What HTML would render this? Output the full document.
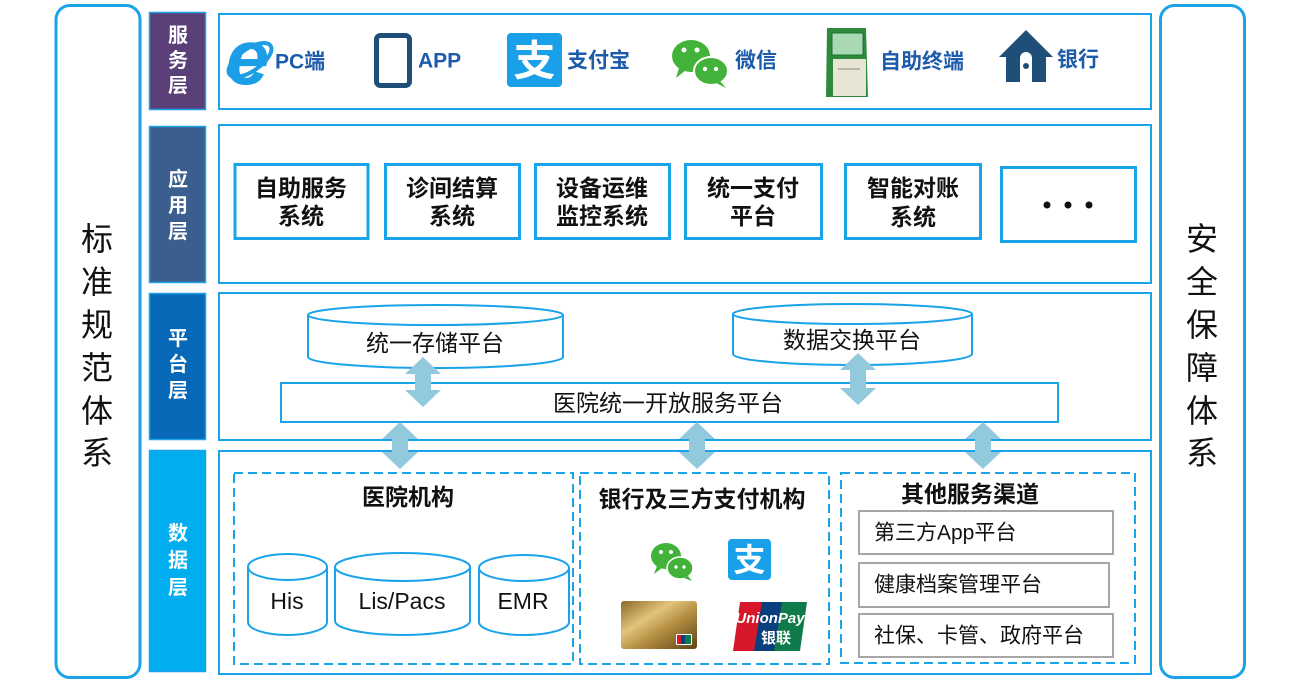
<!DOCTYPE html>
<html><head><meta charset="utf-8">
<style>
html,body{margin:0;padding:0;background:#fff;}
svg{display:block;}
text{font-family:"Liberation Sans","Noto Sans CJK SC",sans-serif;}
</style></head>
<body>
<svg width="1300" height="684" viewBox="0 0 1300 684" xmlns="http://www.w3.org/2000/svg">
<defs>
<linearGradient id="gold" x1="0" y1="0" x2="1" y2="1">
<stop offset="0" stop-color="#8a6a2a"/><stop offset="0.35" stop-color="#e2c47a"/><stop offset="0.6" stop-color="#b08a3e"/><stop offset="1" stop-color="#5e4418"/>
</linearGradient>
</defs>
<rect width="1300" height="684" fill="#fff"/>

<!-- side panels -->
<rect x="56" y="5.5" width="84" height="672" rx="14" fill="#fff" stroke="#1aa3e8" stroke-width="3"/>
<rect x="1160.5" y="5.5" width="84" height="672" rx="14" fill="#fff" stroke="#1aa3e8" stroke-width="3"/>
<g font-size="32" fill="#111" text-anchor="middle" dominant-baseline="central">
<text x="97" y="239">标</text><text x="97" y="282">准</text><text x="97" y="325">规</text><text x="97" y="368">范</text><text x="97" y="411">体</text><text x="97" y="453">系</text>
<text x="1202" y="239">安</text><text x="1202" y="282">全</text><text x="1202" y="325">保</text><text x="1202" y="368">障</text><text x="1202" y="411">体</text><text x="1202" y="453">系</text>
</g>

<!-- layer labels -->
<rect x="149.5" y="12.5" width="56" height="97" fill="#5a3f78" stroke="#1aa3e8" stroke-width="1.5"/>
<rect x="149.5" y="126.5" width="56" height="156" fill="#3b5e8e" stroke="#1aa3e8" stroke-width="1.5"/>
<rect x="149.5" y="293.5" width="56" height="146" fill="#0868b8" stroke="#1aa3e8" stroke-width="1.5"/>
<rect x="149.5" y="450.5" width="56" height="221" fill="#00aeef" stroke="#1aa3e8" stroke-width="1.5"/>
<g font-size="20" font-weight="bold" fill="#fff" text-anchor="middle" dominant-baseline="central">
<text x="178" y="36">服</text><text x="178" y="61">务</text><text x="178" y="86">层</text>
<text x="178" y="180">应</text><text x="178" y="206">用</text><text x="178" y="232">层</text>
<text x="178" y="339">平</text><text x="178" y="365">台</text><text x="178" y="391">层</text>
<text x="178" y="534">数</text><text x="178" y="561">据</text><text x="178" y="588">层</text>
</g>

<!-- main panels -->
<g fill="#fff" stroke="#1aa3e8" stroke-width="2">
<rect x="219" y="14" width="932" height="95"/>
<rect x="219" y="125" width="932" height="158"/>
<rect x="219" y="293" width="932" height="147"/>
<rect x="219" y="451" width="932" height="223"/>
</g>

<!-- service layer icons -->
<!-- IE -->
<ellipse cx="250" cy="60" rx="25" ry="11" transform="rotate(-35 250 60)" fill="none" stroke="#1b9ee6" stroke-width="4"/>
<text x="226" y="84" font-size="78" font-weight="bold" font-style="italic" fill="#1b9ee6">e</text>
<!-- tablet -->
<rect x="376.5" y="35.5" width="33" height="50" rx="4" fill="#fff" stroke="#1f4e79" stroke-width="5"/>
<circle cx="393" cy="81" r="2" fill="#fff"/>
<!-- alipay -->
<rect x="507" y="33" width="55" height="54" rx="4" fill="#1aa0e8"/>
<text x="534.5" y="61" font-size="42" fill="#fff" text-anchor="middle" dominant-baseline="central" font-weight="bold">支</text>
<!-- wechat -->
<ellipse cx="691" cy="56" rx="19" ry="16" fill="#42b23b"/>
<path d="M679 68 L676 78 L686 70 Z" fill="#42b23b"/>
<ellipse cx="711" cy="71" rx="17" ry="14" fill="#42b23b" stroke="#fff" stroke-width="2"/>
<path d="M720 81 L726 88 L716 83 Z" fill="#42b23b"/>
<circle cx="684" cy="50" r="2.5" fill="#fff"/><circle cx="697" cy="50" r="2.5" fill="#fff"/>
<circle cx="705" cy="69" r="2.2" fill="#fff"/><circle cx="716" cy="69" r="2.2" fill="#fff"/>
<!-- kiosk -->
<path d="M827 28 L866 28 L868 97 L826 97 Z" fill="#2d8a3c"/>
<rect x="832" y="33" width="31" height="22" fill="#a9d9b2" stroke="#1e6e2c" stroke-width="1"/>
<rect x="833" y="59" width="33" height="37" fill="#e8e5d5"/>
<rect x="829" y="59" width="4" height="37" fill="#2d8a3c"/>
<rect x="838" y="68" width="22" height="2" fill="#b9b5a3"/>
<!-- house -->
<path d="M1026 30 L1053 57 L1046 57 L1046 82 L1006 82 L1006 57 L999 57 Z" fill="#1f4e79"/>
<path d="M1020 82 L1020 58 A6 6 0 0 1 1032 58 L1032 82 Z" fill="#fff"/>
<circle cx="1026" cy="66" r="3" fill="#1f4e79"/>

<g font-size="21" font-weight="bold" fill="#1d5bab" dominant-baseline="central">
<text x="275" y="62">PC端</text>
<text x="418" y="61">APP</text>
<text x="567" y="61">支付宝</text>
<text x="735" y="61">微信</text>
<text x="880" y="62">自助终端</text>
<text x="1057" y="60">银行</text>
</g>

<!-- application boxes -->
<g fill="#fff" stroke="#1aa3e8" stroke-width="3">
<rect x="235" y="164.5" width="133" height="74"/>
<rect x="385.5" y="164.5" width="134" height="74"/>
<rect x="535.5" y="164.5" width="134" height="74"/>
<rect x="685.5" y="164.5" width="136" height="74"/>
<rect x="845.5" y="164.5" width="135" height="74"/>
<rect x="1001.5" y="167.5" width="134" height="74"/>
</g>
<g font-size="23" font-weight="bold" fill="#111" text-anchor="middle" dominant-baseline="central">
<text x="301" y="188">自助服务</text><text x="301" y="216">系统</text>
<text x="452" y="188">诊间结算</text><text x="452" y="216">系统</text>
<text x="602" y="188">设备运维</text><text x="602" y="216">监控系统</text>
<text x="753" y="188">统一支付</text><text x="753" y="216">平台</text>
<text x="913" y="188">智能对账</text><text x="913" y="217">系统</text>
</g>
<circle cx="1047" cy="205" r="3.5" fill="#111"/><circle cx="1068" cy="205" r="3.5" fill="#111"/><circle cx="1089" cy="205" r="3.5" fill="#111"/>

<!-- platform layer -->
<g fill="#fff" stroke="#1aa3e8" stroke-width="2">
<path d="M308 315 L308 357 A127.5 11 0 0 0 563 357 L563 315"/>
<ellipse cx="435.5" cy="315" rx="127.5" ry="10"/>
<path d="M733 314 L733 354 A119.5 11 0 0 0 972 354 L972 314"/>
<ellipse cx="852.5" cy="314" rx="119.5" ry="10"/>
<rect x="281" y="383" width="777" height="39"/>
</g>
<g font-size="23" fill="#111" text-anchor="middle" dominant-baseline="central">
<text x="435" y="343">统一存储平台</text>
<text x="852" y="340">数据交换平台</text>
<text x="668" y="403">医院统一开放服务平台</text>
</g>

<!-- data layer -->
<g fill="none" stroke="#1aa3e8" stroke-width="2" stroke-dasharray="9 5">
<rect x="234" y="473" width="339" height="191"/>
<rect x="580" y="473" width="249" height="191"/>
<rect x="841" y="473" width="294" height="190"/>
</g>
<g font-size="23" font-weight="bold" fill="#111" text-anchor="middle" dominant-baseline="central">
<text x="408" y="497">医院机构</text>
<text x="702" y="499">银行及三方支付机构</text>
<text x="970" y="494">其他服务渠道</text>
</g>
<g fill="#fff" stroke="#1aa3e8" stroke-width="2">
<path d="M248 567 L248 622 A39.5 13 0 0 0 327 622 L327 567"/>
<ellipse cx="287.5" cy="567" rx="39.5" ry="13"/>
<path d="M335 567 L335 621 A67.5 14 0 0 0 470 621 L470 567"/>
<ellipse cx="402.5" cy="567" rx="67.5" ry="14"/>
<path d="M479 568 L479 622 A45 13 0 0 0 569 622 L569 568"/>
<ellipse cx="524" cy="568" rx="45" ry="13"/>
</g>
<g font-size="23" fill="#111" text-anchor="middle" dominant-baseline="central">
<text x="287" y="601">His</text>
<text x="402" y="601">Lis/Pacs</text>
<text x="523" y="601">EMR</text>
</g>

<!-- payment icons -->
<ellipse cx="666" cy="556" rx="15" ry="13" fill="#42b23b"/>
<path d="M657 566 L654 574 L662 568 Z" fill="#42b23b"/>
<ellipse cx="680" cy="568" rx="13" ry="11" fill="#42b23b" stroke="#fff" stroke-width="1.5"/>
<path d="M688 576 L692 581 L684 578 Z" fill="#42b23b"/>
<circle cx="661" cy="552" r="2" fill="#fff"/><circle cx="671" cy="552" r="2" fill="#fff"/>
<circle cx="676" cy="567" r="1.7" fill="#fff"/><circle cx="684" cy="567" r="1.7" fill="#fff"/>
<rect x="728" y="539" width="43" height="41" rx="4" fill="#1aa0e8"/>
<text x="749.5" y="560" font-size="32" font-weight="bold" fill="#fff" text-anchor="middle" dominant-baseline="central">支</text>
<rect x="621" y="601" width="76" height="48" rx="3" fill="url(#gold)"/>
<rect x="676" y="634" width="16" height="11" rx="1" fill="#fff"/>
<rect x="677" y="635" width="5" height="9" fill="#d7182a"/><rect x="681" y="635" width="5" height="9" fill="#0a3f7e"/><rect x="685" y="635" width="6" height="9" fill="#0f7a4a"/>
<path d="M740 602 L768 602 L760 651 L733 651 Z" fill="#d7182a"/>
<path d="M762 602 L788 602 L780 651 L754 651 Z" fill="#0a3f7e"/>
<path d="M782 602 L807 602 L800 651 L774 651 Z" fill="#0f7a4a"/>
<text x="770" y="623" font-size="15" font-weight="bold" font-style="italic" fill="#fff" text-anchor="middle">UnionPay</text>
<text x="776" y="643" font-size="15" font-weight="bold" fill="#fff" text-anchor="middle">银联</text>

<!-- other channels -->
<g fill="#fff" stroke="#a6a6a6" stroke-width="2">
<rect x="859" y="511" width="254" height="43"/>
<rect x="859" y="563" width="250" height="44"/>
<rect x="859" y="614" width="254" height="43"/>
</g>
<g font-size="21" fill="#111" dominant-baseline="central">
<text x="874" y="533">第三方App平台</text>
<text x="874" y="585">健康档案管理平台</text>
<text x="874" y="636">社保、卡管、政府平台</text>
</g>

<!-- arrows -->
<g fill="#92c9dc">
<path d="M423 357 L441 374 L431 374 L431 390 L441 390 L423 407 L405 390 L415 390 L415 374 L405 374 Z"/>
<path d="M858 353 L876 370 L866 370 L866 388 L876 388 L858 405 L840 388 L850 388 L850 370 L840 370 Z"/>
<path d="M400 422 L418 439 L408 439 L408 452 L418 452 L400 469 L382 452 L392 452 L392 439 L382 439 Z"/>
<path d="M697 422 L715 439 L705 439 L705 452 L715 452 L697 469 L679 452 L689 452 L689 439 L679 439 Z"/>
<path d="M983 422 L1001 439 L991 439 L991 452 L1001 452 L983 469 L965 452 L975 452 L975 439 L965 439 Z"/>
</g>
</svg>
</body></html>
